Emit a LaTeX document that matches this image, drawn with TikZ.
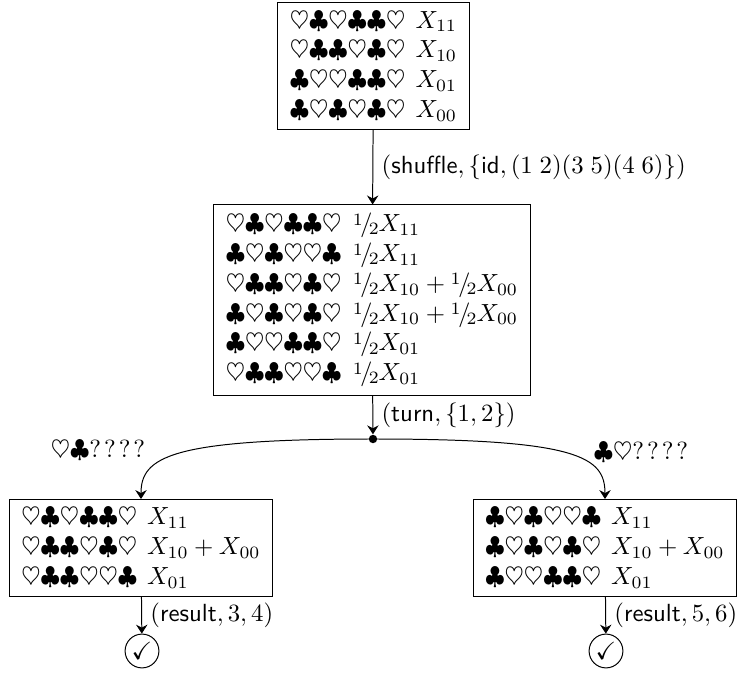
\documentclass[tikz,border=0pt]{standalone}
\usepackage{amssymb}
\usetikzlibrary{arrows.meta}
\newcommand{\hh}{\heartsuit}
\newcommand{\cc}{\clubsuit}
\newcommand{\hf}{\mbox{\raisebox{.6ex}{\scriptsize 1}\kern-.1em/\kern-.15em\raisebox{-.3ex}{\scriptsize 2}}}
\newcommand{\gp}{\hspace{4pt}}
\newcommand{\gq}{\hspace{4.5pt}}
\newcommand{\qm}{?\kern1.2pt?\kern1.2pt?\kern1.2pt?}
\begin{document}
\begin{tikzpicture}[x=0.4032pt,y=-0.4032pt,
  box/.style={draw,align=left,inner xsep=5pt,inner ysep=3.33pt},
  lab/.style={inner sep=3.33pt},
  chk/.style={draw,circle,inner sep=1pt},
  dotn/.style={fill,circle,inner sep=0pt,minimum size=3.4pt},
  conn/.style={-{Stealth[length=3.6pt,width=4.6pt,inset=1.2pt]}}]
\useasboundingbox (0,0) rectangle (738,675);
\node[box] (top) at (373.5,66) {%
$\hh\cc\hh\cc\cc\hh$\gp$X_{11}$\\
$\hh\cc\cc\hh\cc\hh$\gp$X_{10}$\\
$\cc\hh\hh\cc\cc\hh$\gp$X_{01}$\\
$\cc\hh\cc\hh\cc\hh$\gp$X_{00}$};
\node[box] (mid) at (372,300) {%
$\hh\cc\hh\cc\cc\hh$\gq$\hf X_{11}$\\
$\cc\hh\cc\hh\hh\cc$\gq$\hf X_{11}$\\
$\hh\cc\cc\hh\cc\hh$\gq$\hf X_{10}+\hf X_{00}$\\
$\cc\hh\cc\hh\cc\hh$\gq$\hf X_{10}+\hf X_{00}$\\
$\cc\hh\hh\cc\cc\hh$\gq$\hf X_{01}$\\
$\hh\cc\cc\hh\hh\cc$\gq$\hf X_{01}$};
\node[dotn] (d) at (373,439) {};
\node[box] (bl) at (141,548) {%
$\hh\cc\hh\cc\cc\hh$\gp$X_{11}$\\
$\hh\cc\cc\hh\cc\hh$\gp$X_{10}+X_{00}$\\
$\hh\cc\cc\hh\hh\cc$\gp$X_{01}$};
\node[box] (br) at (605,548) {%
$\cc\hh\cc\hh\hh\cc$\gp$X_{11}$\\
$\cc\hh\cc\hh\cc\hh$\gp$X_{10}+X_{00}$\\
$\cc\hh\hh\cc\cc\hh$\gp$X_{01}$};
\node[chk] (cl) at (142,651) {$\checkmark$};
\node[chk] (cr) at (606,651) {$\checkmark$};
\node[lab] (ll) at (98,450) {$\hh\cc$\qm};
\node[lab] (lr) at (641,452) {$\cc\hh$\qm};
\draw[conn] (top) -- node[right,lab] {$(\textsf{shuffle},\{\textsf{id},(1\;2)(3\;5)(4\;6)\})$} (mid);
\draw[conn] (mid) -- node[right,lab] {$(\textsf{turn},\{1,2\})$} (d);
\draw[conn] (d.center) .. controls +(-203,0) and +(0,-42) .. (bl.north);
\draw[conn] (d.center) .. controls +(206,0) and +(0,-42) .. (br.north);
\draw[conn] (bl) -- node[right,lab] {$(\textsf{result},3,4)$} (cl);
\draw[conn] (br) -- node[right,lab] {$(\textsf{result},5,6)$} (cr);
\end{tikzpicture}
\end{document}
